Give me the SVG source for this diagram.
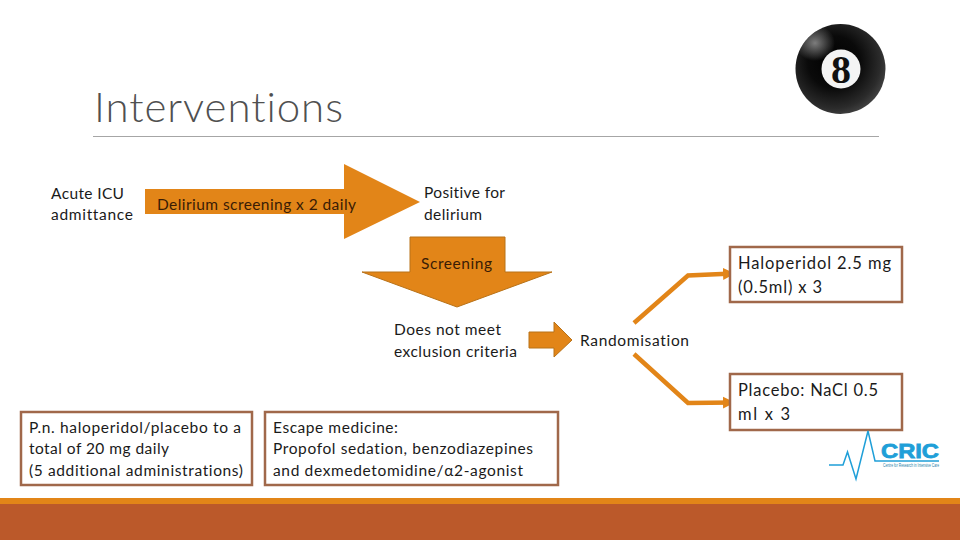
<svg xmlns="http://www.w3.org/2000/svg" width="960" height="540" viewBox="0 0 960 540">
<style>
text{font-family:"Lato","Liberation Sans",sans-serif;font-size:15.500px;fill:#1a1a1a;font-variant-ligatures:none}
.box{fill:#fff;stroke:#a0684a;stroke-width:2.500}
.arrow{fill:#e28518;stroke:#b87218;stroke-width:1}
.conn{fill:none;stroke:#e28518;stroke-width:4.500;stroke-linejoin:miter}
.big{font-size:16.500px}
</style>
<defs>
<marker id="head" markerUnits="userSpaceOnUse" markerWidth="16" markerHeight="16" refX="10" refY="8" orient="auto"><path d="M0 2L12 8L0 14Z" fill="#e28518"/></marker>
<radialGradient id="ballG" gradientUnits="userSpaceOnUse" cx="834" cy="62" r="58"><stop offset="0" stop-color="#000"/><stop offset=".45" stop-color="#0a0a0a"/><stop offset=".8" stop-color="#2b2b2b"/><stop offset="1" stop-color="#4a4a4a"/></radialGradient>
<radialGradient id="shine"><stop offset="0" stop-color="#7d7d7d"/><stop offset="1" stop-color="#7d7d7d" stop-opacity="0"/></radialGradient>
<clipPath id="ballClip"><circle cx="840.500" cy="69" r="45"/></clipPath>
</defs>
<rect width="960" height="540" fill="#fff"/>
<rect id="band-top" x="0" y="498" width="960" height="6" fill="#e28518"/>
<rect id="band-bottom" x="0" y="504" width="960" height="36" fill="#bb592a"/>
<text id="title" x="94" y="122" textLength="249" style="font-size:42px;font-weight:300;fill:#505050">Interventions</text>
<line x1="93" y1="136.500" x2="879" y2="136.500" stroke="#a6a6a6" stroke-width="1"/>
<g id="ball">
<circle cx="840.500" cy="69" r="45" fill="url(#ballG)"/>
<ellipse cx="815" cy="43" rx="20" ry="18" fill="url(#shine)" clip-path="url(#ballClip)"/>
<circle cx="841" cy="69" r="19.500" fill="#f4f4f4"/>
<text x="841" y="83" text-anchor="middle" style="font-family:'Liberation Serif',serif;font-size:40px;font-weight:bold;fill:#111">8</text>
</g>
<g id="connectors">
<polyline class="conn" points="634,323 688,275.500 733,273.500" marker-end="url(#head)"/>
<polyline class="conn" points="634,354 688,403 733,402.500" marker-end="url(#head)"/>
</g>
<g id="node-admittance">
<text x="51" y="199" textLength="73">Acute ICU</text>
<text x="51" y="220" textLength="82">admittance</text>
</g>
<g id="node-screening-daily">
<path d="M145 189H344V164L420 202L344 239V214H145Z" fill="#e28518"/>
<text x="157" y="210" textLength="199" style="fill:#3a1c05">Delirium screening x 2 daily</text>
</g>
<g id="node-positive">
<text x="424" y="198" textLength="81">Positive for</text>
<text x="424" y="220" textLength="58">delirium</text>
</g>
<g id="node-screening">
<path class="arrow" d="M410 237H505V272H552L457 307L362 272H410Z"/>
<text x="421" y="269" textLength="71" style="fill:#3a1c05">Screening</text>
</g>
<g id="node-exclusion">
<text x="394" y="335" textLength="107">Does not meet</text>
<text x="394" y="357" textLength="123">exclusion criteria</text>
</g>
<g id="node-small-arrow">
<path class="arrow" d="M529 332H554V322L572 340L554 357V348H529Z"/>
</g>
<g id="node-randomisation">
<text x="580" y="346" textLength="109">Randomisation</text>
</g>
<g id="node-haloperidol">
<rect class="box" x="730" y="247" width="172" height="55"/>
<text class="big" x="738" y="269" textLength="153">Haloperidol 2.5 mg</text>
<text class="big" x="738" y="293" textLength="84">(0.5ml) x 3</text>
</g>
<g id="node-placebo">
<rect class="box" x="730" y="374" width="172" height="56"/>
<text class="big" x="738" y="396" textLength="140">Placebo: NaCl 0.5</text>
<text class="big" x="738" y="420" textLength="52">ml  x 3</text>
</g>
<g id="node-pn">
<rect class="box" x="21" y="412" width="231" height="73"/>
<text x="29" y="433" textLength="212">P.n. haloperidol/placebo to a</text>
<text x="29" y="454" textLength="140">total of 20 mg daily</text>
<text x="29" y="476" textLength="214">(5 additional administrations)</text>
</g>
<g id="node-escape">
<rect class="box" x="265" y="412" width="293" height="73"/>
<text x="273" y="433" textLength="125">Escape medicine:</text>
<text x="273" y="454" textLength="260">Propofol sedation, benzodiazepines</text>
<text x="273" y="476" textLength="250">and dexmedetomidine/α2-agonist</text>
</g>
<g id="logo">
<polyline points="829,465 843,465 847.500,452 856,479 868,431 875,461 939,461" fill="none" stroke="#1f9fd8" stroke-width="1.500"/>
<text x="881" y="457.500" textLength="58" lengthAdjust="spacingAndGlyphs" style="font-size:20px;font-weight:bold;fill:#1f9fd8;stroke:#1f9fd8;stroke-width:.8;font-family:'Liberation Sans',sans-serif">CRIC</text>
<text x="883" y="467" textLength="56" lengthAdjust="spacingAndGlyphs" style="font-size:4.500px;fill:#1f7fa8;font-family:'Liberation Sans',sans-serif">Centre for Research in Intensive Care</text>
</g>
</svg>
